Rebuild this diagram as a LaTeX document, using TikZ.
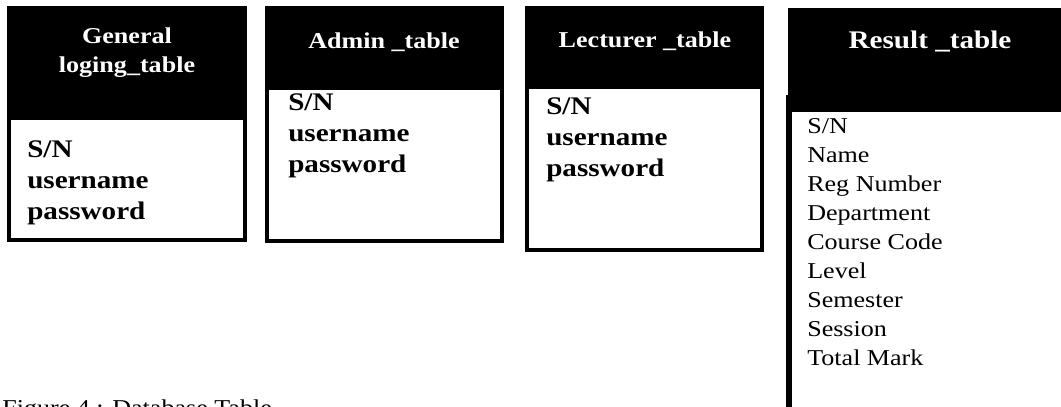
\documentclass[tikz,border=0pt]{standalone}
\usepackage{fontspec}
\setmainfont{Liberation Serif}[FakeStretch=1.15]
\begin{document}
\begin{tikzpicture}[x=0.75pt,y=-0.75pt,
    tblframe/.style={line width=3pt},
    tblhead/.style={text=white, font=\bfseries\fontsize{17}{21.75}\selectfont, align=center, inner sep=0pt},
    fieldbold/.style={font=\bfseries\fontsize{19}{23.25}\selectfont, align=left, anchor=north west, inner sep=0pt},
    fieldplain/.style={font=\fontsize{17}{21.75}\selectfont, align=left, anchor=north west, inner sep=0pt}]
        \useasboundingbox (0,0) rectangle (1061,407);
        \clip (0,0) rectangle (1061,407);

        % General loging table
        \draw [tblframe] (9,8) rectangle (245,240);
        \fill (7,8) rectangle (247,120);
        \node [tblhead, anchor=north] (genhead) at (127,28) {General\\loging\_table};
        \node [fieldbold] (genfields) at (27,140) {S/N\\username\\password};

        % Admin table
        \draw [tblframe] (267,8) rectangle (502,241);
        \fill (265,8) rectangle (504,90);
        \node [tblhead, anchor=base] (admhead) at (384,48) {Admin \_table};
        \node [fieldbold] (admfields) at (288,93) {S/N\\username\\password};

        % Lecturer table
        \draw [tblframe] (527,8) rectangle (762,250);
        \fill (525,8) rectangle (764,89);
        \node [tblhead, anchor=base] (lechead) at (645,47) {Lecturer \_table};
        \node [fieldbold] (lecfields) at (546,97) {S/N\\username\\password};

        % Result table
        \draw [line width=4.5pt] (789,95) -- (789,407);
        \fill (788,8) rectangle (1061,112);
        \node [tblhead, anchor=base, font=\bfseries\fontsize{19}{23}\selectfont] (reshead) at (930,48) {Result \_table};
        \node [fieldplain] (resfields) at (807,118) {S/N\\Name\\Reg Number\\Department\\Course Code\\Level\\Semester\\Session\\Total Mark};

        \node [anchor=base west, inner sep=0pt, font=\fontsize{17}{21.75}\selectfont] (caption) at (2,415) {Figure 4 : Database Table};
\end{tikzpicture}
\end{document}
